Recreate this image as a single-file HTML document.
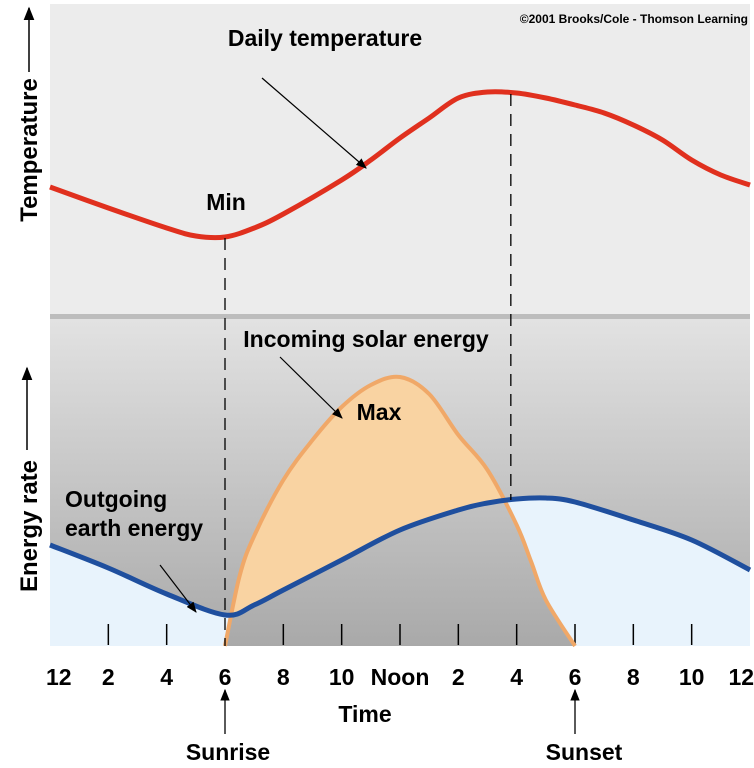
<!DOCTYPE html>
<html><head><meta charset="utf-8"><style>
html,body{margin:0;padding:0;background:#fff}
svg{display:block;font-family:"Liberation Sans",sans-serif;font-weight:bold}
</style></head><body>
<svg id="c" width="754" height="768" viewBox="0 0 754 768">
<defs>
<linearGradient id="g" gradientUnits="userSpaceOnUse" x1="0" y1="319" x2="0" y2="646"><stop offset="0" stop-color="#e2e2e2"/><stop offset="1" stop-color="#a9a9a9"/></linearGradient>
<marker id="ah" viewBox="0 0 10 10" refX="9" refY="5" markerWidth="9" markerHeight="9" orient="auto"><path d="M0,1 L10,5 L0,9 z" fill="#000"/></marker>
<clipPath id="clipSolar"><path id="solarClipPath" d=""/></clipPath>
<clipPath id="clipUnder"><path id="underClipPath" d=""/></clipPath>
</defs>
<rect x="50" y="4" width="700" height="310" fill="#ececec"/>
<rect x="50" y="314" width="700" height="5" fill="#bdbdbd"/>
<rect x="50" y="319" width="700" height="327" fill="url(#g)"/>
<g id="marks"></g>
<text x="748" y="23" font-size="12" text-anchor="end">©2001 Brooks/Cole - Thomson Learning</text>
<text x="325" y="46" font-size="23" text-anchor="middle">Daily temperature</text>
<line x1="262" y1="78" x2="366" y2="168" stroke="#000" stroke-width="1.2" marker-end="url(#ah)"/>
<text x="226" y="210" font-size="23" text-anchor="middle">Min</text>
<text x="366" y="347" font-size="23" text-anchor="middle">Incoming solar energy</text>
<line x1="280" y1="357" x2="342" y2="418" stroke="#000" stroke-width="1.2" marker-end="url(#ah)"/>
<text x="379" y="420" font-size="23" text-anchor="middle">Max</text>
<text x="65" y="507" font-size="23">Outgoing</text>
<text x="65" y="536" font-size="23">earth energy</text>
<line x1="160" y1="565" x2="196" y2="612" stroke="#000" stroke-width="1.2" marker-end="url(#ah)"/>
<g>
<text transform="translate(37,150) rotate(-90)" font-size="24" text-anchor="middle">Temperature</text>
<line x1="29" y1="72" x2="29" y2="8" stroke="#000" stroke-width="1.5" marker-end="url(#ah)"/>
</g>
<g>
<text transform="translate(37,526) rotate(-90)" font-size="24" text-anchor="middle">Energy rate</text>
<line x1="27" y1="450" x2="27" y2="368" stroke="#000" stroke-width="1.5" marker-end="url(#ah)"/>
</g>
<g id="xt"></g>
<text x="365" y="722" font-size="23" text-anchor="middle">Time</text>
<line x1="225" y1="734" x2="225" y2="690" stroke="#000" stroke-width="1.3" marker-end="url(#ah)"/>
<text x="228" y="760" font-size="23" text-anchor="middle">Sunrise</text>
<line x1="575" y1="734" x2="575" y2="690" stroke="#000" stroke-width="1.3" marker-end="url(#ah)"/>
<text x="584" y="760" font-size="23" text-anchor="middle">Sunset</text>
</svg>
<script>
const tempHours=[0,2,4,5,6,7,8,10,11,12,13,14,15,16,17,18,19,20,21,22,23,24];
const tempValues=[126,105,85,77,76,85,99,133,153,175,195,215,221,220,215,208,200,188,173,153,138,128];
const outHours=[0,2,4,6,7,8,10,12,14,15,16,17,18,20,22,24];
const outValues=[101,78,52,31,41,56,86,116,136,143,147,148,144,126,106,76];
const solarHours=[6,6.5,7,8,9,10,11,12,13,14,15,16,16.5,17,18];
const solarValues=[0,70,110,166,206,239,261,269,252,211,176,121,84,46,0];
const tickHours=[2,4,8,10,12,14,16,18,20,22];
const tickLabels=["12","2","4","6","8","10","Noon","2","4","6","8","10","12"];
const labelHours=[0.3,2,4,6,8,10,12,14,16,18,20,22,23.7];
const minHour=6, maxHour=15.8;
const NS="http://www.w3.org/2000/svg";
const x=h=>50+h*700/24;
const yT=v=>313-v;
const yE=v=>646-v;
function smooth(p){let d="M"+p[0][0]+","+p[0][1];for(let i=0;i<p.length-1;i++){const a=p[Math.max(0,i-1)],b=p[i],c=p[i+1],e=p[Math.min(p.length-1,i+2)];d+=" C"+(b[0]+(c[0]-a[0])/6)+","+(b[1]+(c[1]-a[1])/6)+" "+(c[0]-(e[0]-b[0])/6)+","+(c[1]-(e[1]-b[1])/6)+" "+c[0]+","+c[1];}return d;}
function el(t,a,parent){const e=document.createElementNS(NS,t);for(const k in a)e.setAttribute(k,a[k]);(parent||document.getElementById("marks")).appendChild(e);return e;}
const op=outHours.map((h,i)=>[x(h),yE(outValues[i])]);
const sp=solarHours.map((h,i)=>[x(h),yE(solarValues[i])]);
const tp=tempHours.map((h,i)=>[x(h),yT(tempValues[i])]);
const underD=smooth(op)+" L"+x(24)+",646 L"+x(0)+",646 Z";
const solarD=smooth(sp)+" Z";
document.getElementById("solarClipPath").setAttribute("d",solarD);
document.getElementById("underClipPath").setAttribute("d",underD);
let e;
e=el("path",{d:underD,fill:"#e8f3fc"});


e=el("path",{d:solarD,fill:"#f9d3a2"});


const gg=el("g",{"clip-path":"url(#clipSolar)"});


el("rect",{x:50,y:319,width:700,height:327,fill:"url(#g)","clip-path":"url(#clipUnder)"},gg);
tickHours.forEach(h=>{const t=el("line",{x1:x(h),x2:x(h),y1:624,y2:645,stroke:"#000","stroke-width":1.5});

});
e=el("path",{d:smooth(sp),fill:"none",stroke:"#f0a868","stroke-width":4});


e=el("path",{d:smooth(op),fill:"none",stroke:"#1f4f9e","stroke-width":5});


e=el("path",{d:smooth(tp),fill:"none",stroke:"#e0301e","stroke-width":5});


e=el("line",{x1:x(minHour),x2:x(minHour),y1:238,y2:646,stroke:"#000","stroke-width":1.3,"stroke-dasharray":"12,8"});


e=el("line",{x1:x(maxHour),x2:x(maxHour),y1:94,y2:500,stroke:"#000","stroke-width":1.3,"stroke-dasharray":"12,8"});


const xt=document.getElementById("xt");
tickLabels.forEach((l,i)=>{const t=document.createElementNS(NS,"text");t.setAttribute("x",x(labelHours[i]));t.setAttribute("y",685);t.setAttribute("font-size",23);t.setAttribute("text-anchor","middle");t.textContent=l;


xt.appendChild(t);});
</script>
</body></html>
